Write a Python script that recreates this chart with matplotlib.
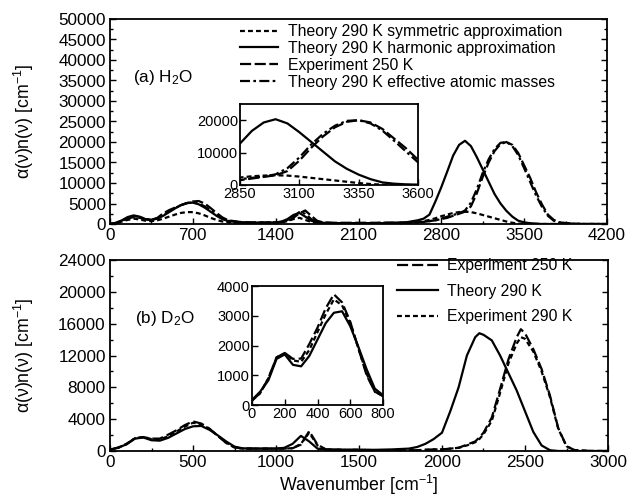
import matplotlib
matplotlib.use('Agg')
import matplotlib.pyplot as plt
from matplotlib.ticker import MultipleLocator, FixedLocator

plt.rcParams['font.family'] = ['Liberation Sans', 'DejaVu Sans']
plt.rcParams['mathtext.fontset'] = 'custom'
plt.rcParams['mathtext.rm'] = 'Liberation Sans'
plt.rcParams['mathtext.it'] = 'Liberation Sans:italic'
plt.rcParams['mathtext.bf'] = 'Liberation Sans:bold'

# ---------------- Panel (a): H2O ----------------
nu_a = [0, 50, 100, 150, 200, 250, 300, 350, 400, 450, 500, 550, 600, 650, 700, 750, 800, 850, 900, 950, 1000,
        1100, 1200, 1300, 1400,
        1450, 1500, 1550, 1600, 1650, 1700, 1750, 1800,
        1900, 2000, 2100, 2200, 2300, 2400, 2500, 2600,
        2650, 2700, 2750, 2800, 2850, 2900, 2950, 3000, 3050, 3100, 3150, 3200, 3250, 3300, 3350, 3400,
        3450, 3500, 3550, 3600, 3650, 3700, 3750, 3800,
        3900, 4000, 4100, 4200]

symmetric_a = [0, 200, 600, 1000, 1300, 1100, 800, 700, 900, 1300, 1800, 2300, 2700, 2900, 2900, 2600, 2100, 1500, 1000, 600, 400,
               300, 300, 300, 300,
               400, 700, 1200, 1500, 1000, 500, 300, 200,
               200, 200, 200, 200, 200, 200, 300, 500,
               700, 1000, 1400, 1900, 2300, 2700, 2900, 3000, 2900, 2600, 2200, 1800, 1400, 1000, 600, 300,
               100, 0, 0, 0, 0, 0, 0, 0,
               0, 0, 0, 0]

harmonic_a = [0, 300, 900, 1700, 2100, 1800, 1200, 1000, 1300, 2000, 2900, 3800, 4600, 5100, 5200, 4800, 4000, 3000, 2000, 1200, 700,
              400, 300, 300, 400,
              600, 1200, 2200, 2700, 1800, 800, 400, 300,
              200, 200, 200, 200, 200, 300, 400, 900,
              1300, 2300, 5500, 9000, 12800, 16700, 19300, 20300, 19000, 16300, 13300, 10300, 7300, 5000, 3200, 1800,
              800, 400, 200, 100, 0, 0, 0, 0,
              0, 0, 0, 0]

experiment_a = [0, 200, 700, 1300, 1700, 1500, 1100, 1000, 1500, 2600, 3400, 4000, 4600, 5100, 5500, 5600, 5000, 3900, 2700, 1600, 900,
                500, 400, 400, 400,
                500, 800, 1500, 2600, 3300, 2000, 800, 400,
                300, 300, 300, 300, 300, 300, 300, 400,
                500, 700, 900, 1200, 1500, 2000, 2500, 3000, 4300, 7500, 11500, 15000, 17800, 19500, 20000, 19300,
                17300, 14300, 11300, 7800, 4800, 2300, 1000, 400,
                100, 0, 0, 0]

effmass_a = [0, 250, 800, 1500, 1900, 1700, 1200, 1000, 1400, 2200, 3100, 3900, 4600, 5100, 5300, 5000, 4300, 3300, 2200, 1300, 800,
             400, 300, 300, 400,
             500, 1000, 1800, 2900, 2500, 1200, 500, 300,
             200, 200, 200, 200, 300, 300, 300, 400,
             500, 700, 900, 1300, 1800, 2200, 2600, 3300, 5200, 8500, 12500, 15800, 18300, 19800, 20000, 19000,
             16800, 13600, 10300, 7000, 4200, 2000, 800, 300,
             100, 0, 0, 0]

labels_a = ['Theory 290 K symmetric approximation',
            'Theory 290 K harmonic approximation',
            'Experiment 250 K',
            'Theory 290 K effective atomic masses']

# ---------------- Panel (b): D2O ----------------
nu_b = [0, 50, 100, 150, 200, 250, 300, 350, 400, 450, 500, 550, 600, 650, 700, 750, 800,
        900, 1000, 1050, 1100, 1150, 1200, 1250, 1300,
        1400, 1500, 1600, 1700, 1800,
        1850, 1900, 1950, 2000, 2050, 2100, 2150, 2200, 2225, 2250, 2300, 2350, 2400, 2450, 2475, 2500,
        2550, 2600, 2650, 2700, 2750, 2800,
        2900, 3000]

exp250_b = [150, 400, 900, 1600, 1750, 1550, 1560, 2050, 2600, 3250, 3720, 3450, 2800, 1900, 1000, 450, 300,
            300, 300, 300, 350, 800, 2500, 800, 200,
            150, 150, 100, 100, 100,
            100, 150, 200, 200, 300, 400, 800, 1200, 1700, 2300, 4200, 7800, 11500, 14300, 15300, 14800,
            12800, 10300, 7000, 2900, 600, 100,
            0, 0]

theory_b = [170, 450, 830, 1550, 1700, 1350, 1300, 1650, 2200, 2750, 3100, 3150, 2650, 1950, 1200, 550, 330,
            300, 300, 400, 900, 1900, 1200, 300, 200,
            150, 150, 150, 200, 300,
            500, 900, 1500, 2300, 5000, 8000, 12000, 14300, 14800, 14600, 13900, 12000, 9800, 7600, 6300, 5000,
            2400, 700, 100, 0, 0, 0,
            0, 0]

exp290_b = [150, 400, 900, 1600, 1750, 1500, 1450, 1850, 2450, 3050, 3550, 3350, 2750, 1900, 1050, 450, 300,
            300, 300, 300, 350, 900, 2300, 700, 200,
            150, 150, 100, 100, 100,
            100, 150, 200, 200, 300, 400, 700, 1100, 1500, 2100, 3800, 7300, 11000, 13500, 14300, 14100,
            12500, 10000, 6800, 2800, 600, 100,
            0, 0]

labels_b = ['Experiment 250 K', 'Theory 290 K', 'Experiment 290 K']

# ---------------- styles ----------------
LW = 1.6
st_sym = dict(color='black', lw=LW, linestyle=(0, (2.2, 1.4)))
st_harm = dict(color='black', lw=LW, linestyle='-')
st_exp = dict(color='black', lw=LW, linestyle=(0, (5, 1.6)))
st_eff = dict(color='black', lw=LW, linestyle=(0, (4.5, 1.5, 1.2, 1.5)))
st_exp250b = dict(color='black', lw=LW, linestyle=(0, (5, 1.8)))
st_thb = dict(color='black', lw=LW, linestyle='-')
st_exp290b = dict(color='black', lw=LW, linestyle=(0, (2.2, 1.4)))

FS = 11.3      # legend / annotation text
TFS = 12.3     # main tick labels
IFS = 10.5     # inset tick labels
LFS = 12.8     # axis labels
W, H = 629, 498
fig = plt.figure(figsize=(W / 100, H / 100), dpi=100)


def fbox(l, t, r, b):
    return [l / W, 1 - b / H, (r - l) / W, (b - t) / H]


def style_axes(ax, fs, right=True):
    for s in ax.spines.values():
        s.set_linewidth(1.3)
    ax.tick_params(which='both', direction='in', right=right, top=False, labelsize=fs, width=1.0, pad=3)
    ax.tick_params(which='major', length=4)
    ax.tick_params(which='minor', length=2.5)


YLABEL = 'α(ν)n(ν) [cm$^{-1}$]'

# Top main axes
ax1 = fig.add_axes(fbox(110, 19, 607, 224))
ax1.plot(nu_a, symmetric_a, label=labels_a[0], **st_sym)
ax1.plot(nu_a, harmonic_a, label=labels_a[1], **st_harm)
ax1.plot(nu_a, experiment_a, label=labels_a[2], **st_exp)
ax1.plot(nu_a, effmass_a, label=labels_a[3], **st_eff)
ax1.set_xlim(0, 4200)
ax1.set_ylim(0, 50000)
ax1.xaxis.set_major_locator(MultipleLocator(700))
ax1.xaxis.set_minor_locator(MultipleLocator(350))
ax1.yaxis.set_major_locator(MultipleLocator(5000))
ax1.yaxis.set_minor_locator(MultipleLocator(2500))
style_axes(ax1, TFS)
ax1.set_ylabel(YLABEL, fontsize=LFS)
ax1.yaxis.set_label_coords(-0.148, 0.5)
ax1.text(195, 35800, r'(a) H$_2$O', fontsize=FS + 1, va='center', ha='left')
leg1 = ax1.legend(loc='upper left', bbox_to_anchor=(240 / W, 1 - 24 / H), bbox_transform=fig.transFigure,
                  frameon=False, fontsize=FS, handlelength=2.45, handletextpad=0.6, labelspacing=0.12,
                  borderpad=0, borderaxespad=0)

# Top inset
ins1 = fig.add_axes(fbox(240, 104, 418, 185))
ins1.plot(nu_a, symmetric_a, **st_sym)
ins1.plot(nu_a, harmonic_a, **st_harm)
ins1.plot(nu_a, experiment_a, **st_exp)
ins1.plot(nu_a, effmass_a, **st_eff)
ins1.set_xlim(2850, 3600)
ins1.set_ylim(0, 25000)
ins1.xaxis.set_major_locator(FixedLocator([2850, 3100, 3350, 3600]))
ins1.yaxis.set_major_locator(FixedLocator([0, 10000, 20000]))
style_axes(ins1, IFS, right=False)
ins1.tick_params(pad=1.5)

# Bottom main axes
ax2 = fig.add_axes(fbox(110, 260, 608, 451))
ax2.plot(nu_b, exp250_b, label=labels_b[0], **st_exp250b)
ax2.plot(nu_b, theory_b, label=labels_b[1], **st_thb)
ax2.plot(nu_b, exp290_b, label=labels_b[2], **st_exp290b)
ax2.set_xlim(0, 3000)
ax2.set_ylim(0, 24000)
ax2.xaxis.set_major_locator(MultipleLocator(500))
ax2.xaxis.set_minor_locator(MultipleLocator(250))
ax2.yaxis.set_major_locator(MultipleLocator(4000))
ax2.yaxis.set_minor_locator(MultipleLocator(2000))
style_axes(ax2, TFS)
ax2.set_ylabel(YLABEL, fontsize=LFS)
ax2.yaxis.set_label_coords(-0.148, 0.5)
ax2.set_xlabel(r'Wavenumber [cm$^{-1}$]', fontsize=LFS, labelpad=2)
ax2.text(150, 16700, r'(b) D$_2$O', fontsize=FS + 1, va='center', ha='left')
leg2 = ax2.legend(loc='upper left', bbox_to_anchor=(397 / W, 1 - 258 / H), bbox_transform=fig.transFigure,
                  frameon=False, fontsize=FS, handlelength=2.6, handletextpad=0.6, labelspacing=0.68,
                  borderpad=0, borderaxespad=0)

# Bottom inset
ins2 = fig.add_axes(fbox(252, 286, 383, 405))
ins2.plot(nu_b, exp250_b, **st_exp250b)
ins2.plot(nu_b, theory_b, **st_thb)
ins2.plot(nu_b, exp290_b, **st_exp290b)
ins2.set_xlim(0, 800)
ins2.set_ylim(0, 4000)
ins2.xaxis.set_major_locator(MultipleLocator(200))
ins2.yaxis.set_major_locator(MultipleLocator(1000))
style_axes(ins2, IFS, right=False)
ins2.tick_params(pad=1.5)

fig.savefig('out.png', dpi=100)
